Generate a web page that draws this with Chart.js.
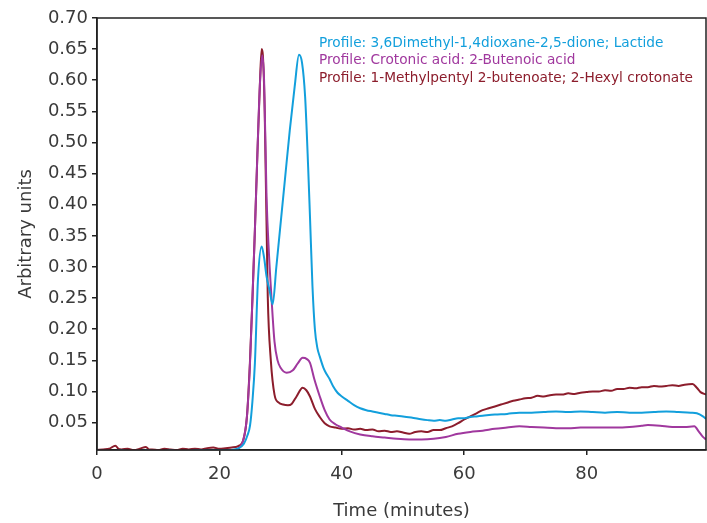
<!DOCTYPE html>
<html>
<head>
<meta charset="utf-8">
<script src="https://cdn.jsdelivr.net/npm/chart.js@4"></script>
<style>
  html, body { margin: 0; padding: 0; background: #fff; }
  #wrap { width: 707px; height: 523px; }
</style>
</head>
<body>
<div id="wrap"><canvas id="grafico"></canvas></div>
<script>
const seriesNames = [
    'Profile: 3,6Dimethyl-1,4dioxane-2,5-dione; Lactide',
    'Profile: Crotonic acid: 2-Butenoic acid',
    'Profile: 1-Methylpentyl 2-butenoate; 2-Hexyl crotonate'
];
const seriesColors = ['#129fdc', '#a0389e', '#8c1d2c'];

const xTicks = [0, 20, 40, 60, 80];
const yTicks = [0.05, 0.10, 0.15, 0.20, 0.25, 0.30, 0.35, 0.40, 0.45, 0.50, 0.55, 0.60, 0.65, 0.70];

// Lactide
const lactideTime = [0, 2, 4, 6, 8, 10, 12, 14, 16, 18, 20, 22, 23, 24, 24.6, 25, 25.4, 25.8, 26.3, 26.9,
    27.3, 27.7, 28.2, 28.7, 29.3, 29.9, 30.7, 31.5, 32.3, 33.0, 33.5, 34.0, 34.5, 34.8, 35.2, 35.6, 36.0,
    36.4, 37.0, 37.5, 38.0, 38.6, 39.3, 40, 41, 42, 43, 44, 45, 46, 47, 48, 49, 50, 52, 54, 55, 56, 57,
    58, 59, 60, 61, 62, 63, 65, 67, 69, 71, 73, 75, 77, 79, 81, 83, 85, 87, 89, 91, 93, 95, 97, 98, 99, 99.5];
const lactideValue = [0.005, 0.004, 0.005, 0.004, 0.005, 0.004, 0.005, 0.004, 0.005, 0.005, 0.005, 0.006,
    0.008, 0.016, 0.03, 0.045, 0.085, 0.146, 0.28, 0.333, 0.315, 0.285, 0.262, 0.24, 0.30, 0.36, 0.44,
    0.52, 0.59, 0.641, 0.628, 0.574, 0.46, 0.38, 0.27, 0.20, 0.17, 0.156, 0.138, 0.128, 0.12, 0.108,
    0.098, 0.092, 0.085, 0.078, 0.073, 0.070, 0.068, 0.066, 0.064, 0.062, 0.061, 0.060, 0.057, 0.054,
    0.053, 0.054, 0.053, 0.055, 0.057, 0.057, 0.059, 0.060, 0.061, 0.063, 0.064, 0.066, 0.066, 0.067,
    0.068, 0.067, 0.068, 0.067, 0.066, 0.067, 0.066, 0.066, 0.067, 0.068, 0.067, 0.066, 0.065, 0.060, 0.056];

// Crotonic acid
const crotonicTime = [0, 2, 4, 6, 8, 10, 12, 14, 16, 18, 20, 22, 23, 23.9, 24.5, 25, 25.4, 25.8, 26.2,
    26.6, 27, 27.3, 27.7, 28.1, 28.5, 29.0, 29.5, 30, 31, 32, 32.8, 33.6, 34.3, 34.8, 35.5, 36.4, 37.2,
    38, 39, 40, 41.3, 43, 45, 47, 49, 51, 53, 55, 57, 59, 61, 63, 65, 67, 69, 71, 73, 75, 77, 79, 81, 83,
    85, 87, 89, 90, 92, 94, 96, 97.6, 98.3, 99, 99.5];
const crotonicValue = [0.004, 0.003, 0.004, 0.003, 0.004, 0.003, 0.004, 0.003, 0.004, 0.004, 0.004,
    0.005, 0.008, 0.022, 0.06, 0.146, 0.25, 0.36, 0.48, 0.59, 0.64, 0.60, 0.413, 0.32, 0.252, 0.18,
    0.150, 0.138, 0.130, 0.134, 0.145, 0.154, 0.152, 0.146, 0.12, 0.092, 0.07, 0.055, 0.047, 0.042,
    0.036, 0.031, 0.028, 0.026, 0.024, 0.023, 0.023, 0.024, 0.027, 0.032, 0.035, 0.037, 0.040, 0.042,
    0.044, 0.043, 0.042, 0.041, 0.041, 0.042, 0.042, 0.042, 0.042, 0.043, 0.045, 0.046, 0.045, 0.043,
    0.043, 0.044, 0.036, 0.027, 0.023];

// Hexyl crotonate
const hexylTime = [0, 1, 2, 3, 3.5, 4, 5, 6, 7, 8, 8.5, 9, 10, 11, 12, 13, 14, 15, 16, 17, 18, 19, 20,
    21, 22, 23, 23.9, 24.5, 25, 25.4, 25.8, 26.2, 26.6, 26.9, 27.1, 27.4, 27.9, 28.4, 29, 29.7, 30.4,
    31.2, 31.8, 32.6, 33.6, 34.2, 34.8, 35.6, 36.4, 37.2, 38, 39, 40, 41, 42, 43, 44, 45, 46, 47, 48,
    49, 50, 51, 52, 53, 54, 55, 56, 57, 58, 59, 60, 61, 62, 63, 64, 65, 66, 67, 68, 69, 70, 71, 72, 73,
    74, 75, 76, 77, 78, 79, 80, 81, 82, 83, 84, 85, 86, 87, 88, 89, 90, 91, 92, 93, 94, 95, 96, 97.3,
    98, 98.6, 99.5];
const hexylValue = [0.006, 0.007, 0.008, 0.013, 0.008, 0.007, 0.008, 0.006, 0.008, 0.011, 0.007, 0.007,
    0.006, 0.008, 0.007, 0.006, 0.008, 0.007, 0.008, 0.007, 0.009, 0.010, 0.008, 0.009, 0.010, 0.012,
    0.022, 0.06, 0.15, 0.25, 0.36, 0.48, 0.59, 0.65, 0.64, 0.55, 0.252, 0.15, 0.095, 0.082, 0.079,
    0.078, 0.080, 0.092, 0.106, 0.102, 0.092, 0.072, 0.059, 0.049, 0.044, 0.042, 0.040, 0.041, 0.039,
    0.040, 0.038, 0.039, 0.036, 0.037, 0.035, 0.036, 0.034, 0.032, 0.035, 0.036, 0.035, 0.038, 0.038,
    0.041, 0.044, 0.049, 0.055, 0.060, 0.065, 0.070, 0.073, 0.076, 0.079, 0.082, 0.085, 0.087, 0.089,
    0.090, 0.093, 0.092, 0.094, 0.095, 0.095, 0.097, 0.096, 0.098, 0.099, 0.100, 0.100, 0.102, 0.101,
    0.104, 0.104, 0.106, 0.105, 0.107, 0.107, 0.109, 0.108, 0.109, 0.110, 0.109, 0.111, 0.112, 0.106,
    0.099, 0.095];

const fuente = '"DejaVu Sans", sans-serif';
const colorTexto = '#3a3a3a';

function puntos(tiempos, valores) {
    return tiempos.map((t, i) => ({ x: t, y: valores[i] }));
}

const series = [
    puntos(lactideTime, lactideValue),
    puntos(crotonicTime, crotonicValue),
    puntos(hexylTime, hexylValue)
];

// marco + leyenda en texto dentro del area
const marcoYLeyenda = {
    id: 'marcoYLeyenda',
    afterDatasetsDraw(chart) {
        const { ctx, chartArea } = chart;
        ctx.save();
        ctx.strokeStyle = '#222';
        ctx.lineWidth = 1.5;
        ctx.strokeRect(chartArea.left, chartArea.top, chartArea.right - chartArea.left, chartArea.bottom - chartArea.top);
        ctx.font = '13.7px ' + fuente;
        ctx.textBaseline = 'middle';
        ctx.textAlign = 'left';
        chart.data.datasets.forEach((ds, i) => {
            ctx.fillStyle = ds.borderColor;
            ctx.fillText(ds.label, 319, 43 + i * 17.5);
        });
        ctx.restore();
    }
};

new Chart(document.querySelector('#grafico'), {
    type: 'line',
    data: {
        datasets: series.map((datos, i) => ({
            label: seriesNames[i],
            data: datos,
            borderColor: seriesColors[i],
            borderWidth: 2,
            pointRadius: 0,
            cubicInterpolationMode: 'monotone',
            fill: false
        }))
    },
    options: {
        responsive: true,
        maintainAspectRatio: false,
        animation: false,
        layout: { padding: { top: 18, right: 1, left: 0, bottom: 0 } },
        plugins: {
            legend: { display: false },
            tooltip: { enabled: false }
        },
        scales: {
            x: {
                type: 'linear',
                min: 0,
                max: 99.5,
                afterBuildTicks: (scale) => { scale.ticks = xTicks.map(v => ({ value: v })); },
                afterFit: (scale) => { scale.height = 73; },
                grid: { display: true, drawOnChartArea: false, drawTicks: true, tickLength: 5, color: '#222', lineWidth: 1.5 },
                border: { display: true, color: '#222', width: 1.5 },
                ticks: { color: colorTexto, font: { family: fuente, size: 18 }, padding: 9, maxRotation: 0 },
                title: { display: true, text: 'Time (minutes)', color: colorTexto, font: { family: fuente, size: 18 }, padding: { top: 0, bottom: 1 } }
            },
            y: {
                min: 0.006,
                max: 0.70,
                afterBuildTicks: (scale) => { scale.ticks = yTicks.map(v => ({ value: v })); },
                afterFit: (scale) => { scale.width = 97; },
                grid: { display: true, drawOnChartArea: false, drawTicks: true, tickLength: 5, color: '#222', lineWidth: 1.5 },
                border: { display: true, color: '#222', width: 1.5 },
                ticks: { color: colorTexto, font: { family: fuente, size: 18 }, padding: 4, callback: (v) => v.toFixed(2) },
                title: { display: true, text: 'Arbitrary units', color: colorTexto, font: { family: fuente, size: 18 }, padding: { top: 16, bottom: 0 } }
            }
        }
    },
    plugins: [marcoYLeyenda]
});
</script>
</body>
</html>
